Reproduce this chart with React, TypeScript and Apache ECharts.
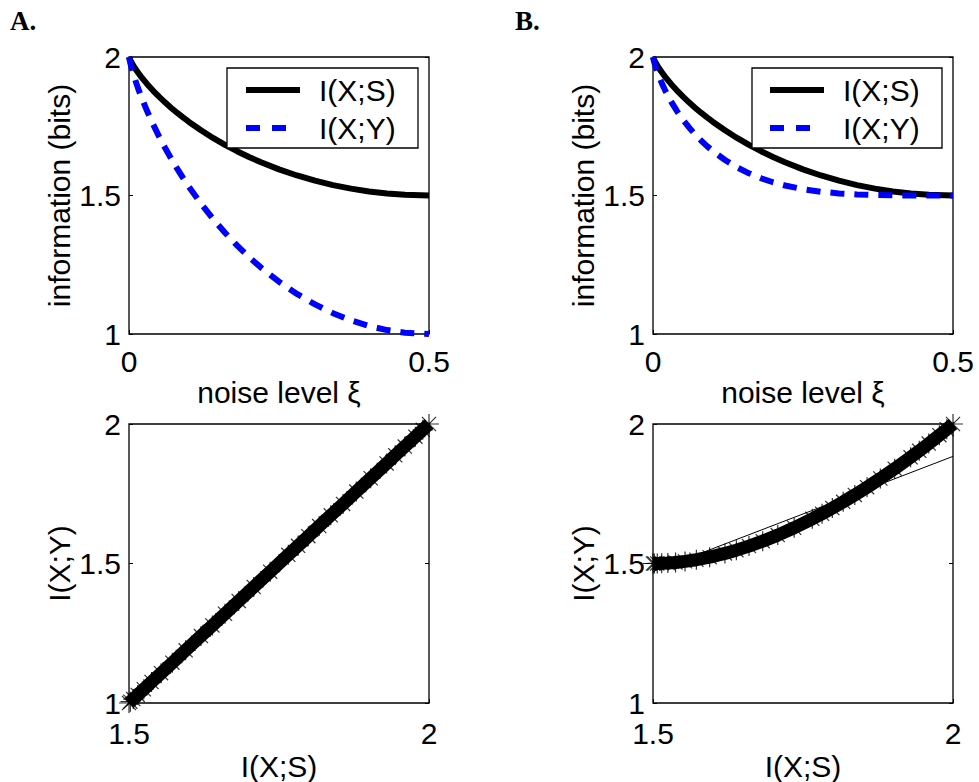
import React, { useEffect, useRef } from 'react';
import * as echarts from 'echarts';

// noise level ξ samples
const NOISE = [0, 0.002, 0.005, 0.01, 0.015, 0.02, 0.03, 0.04, 0.05, 0.06, 0.07, 0.08, 0.09, 0.1, 0.12, 0.14, 0.16, 0.18, 0.2, 0.22, 0.25, 0.28, 0.31, 0.34, 0.37, 0.4, 0.43, 0.46, 0.5];
// I(X;S) (same in A and B)
const I_XS = [2, 1.9896, 1.9773, 1.9596, 1.9438, 1.9293, 1.9028, 1.8789, 1.8568, 1.8363, 1.8170, 1.7989, 1.7818, 1.7655, 1.7353, 1.7079, 1.6828, 1.6600, 1.6390, 1.6199, 1.5944, 1.5723, 1.5534, 1.5376, 1.5247, 1.5145, 1.5071, 1.5023, 1.5];
// I(X;Y) panel A
const I_XY_A = [2, 1.9792, 1.9546, 1.9192, 1.8876, 1.8586, 1.8056, 1.7577, 1.7136, 1.6726, 1.6341, 1.5978, 1.5635, 1.5310, 1.4706, 1.4158, 1.3657, 1.3199, 1.2781, 1.2398, 1.1887, 1.1446, 1.1068, 1.0752, 1.0493, 1.0291, 1.0142, 1.0046, 1];
// I(X;Y) panel B
const I_XY_B = [2, 1.9812, 1.9598, 1.9298, 1.9039, 1.8807, 1.8399, 1.8046, 1.7735, 1.7459, 1.7210, 1.6986, 1.6783, 1.6600, 1.6281, 1.6018, 1.5801, 1.5623, 1.5478, 1.5361, 1.5228, 1.5136, 1.5076, 1.5038, 1.5017, 1.5006, 1.5001, 1.5000, 1.5];
// thin straight line in panel B (bottom)
const FIT_B_X = [1.5, 2];
const FIT_B_Y = [1.471, 1.884];

const NOISE_TICKS = [0, 0.5];
const INFO_TICKS = [1, 1.5, 2];
const IXS_TICKS = [1.5, 2];

const FONT = 'Liberation Sans';
const ASTERISK = 'path://M0,-10L0,10M-10,0L10,0M-7.07,-7.07L7.07,7.07M-7.07,7.07L7.07,-7.07';

function pairs(xs: number[], ys: number[]) {
  return xs.map((x, i) => [x, ys[i]]);
}

export default function App() {
  const ref = useRef<HTMLDivElement>(null);
  useEffect(() => {
    document.body.style.margin = '0';
    const chart = echarts.init(ref.current!, undefined, { renderer: 'svg' });
    const grids = [
      { left: 129, top: 57, width: 300, height: 277 },
      { left: 653, top: 57, width: 300, height: 277 },
      { left: 129, top: 424, width: 300, height: 279 },
      { left: 653, top: 424, width: 300, height: 279 },
    ].map((g) => ({ ...g, show: true, borderColor: '#000', borderWidth: 1.3, backgroundColor: 'transparent' }));

    const tick = { show: true, inside: true, length: 4, lineStyle: { color: '#000', width: 1 } };
    const lbl = { color: '#000', fontSize: 30, fontFamily: FONT, lineHeight: 22 };
    const nameStyle = { color: '#000', fontSize: 30, fontFamily: FONT };

    const xAxis: any[] = [0, 1, 2, 3].map((i) => {
      const ticks = i < 2 ? NOISE_TICKS : IXS_TICKS;
      return {
        type: 'value',
        gridIndex: i,
        min: ticks[0],
        max: ticks[ticks.length - 1],
        interval: ticks[1] - ticks[0],
        splitLine: { show: false },
        axisLine: { show: false },
        axisTick: tick,
        axisLabel: { ...lbl, margin: i < 2 ? 16 : 19 },
        name: i < 2 ? 'noise level ξ' : 'I(X;S)',
        nameLocation: 'middle',
        nameGap: i < 2 ? 43 : 48,
        nameTextStyle: nameStyle,
      };
    });
    const yAxis: any[] = [];
    [0, 1, 2, 3].forEach((i) => {
      const base = {
        type: 'value',
        gridIndex: i,
        min: INFO_TICKS[0],
        max: INFO_TICKS[INFO_TICKS.length - 1],
        interval: INFO_TICKS[1] - INFO_TICKS[0],
        splitLine: { show: false },
        axisLine: { show: false },
        axisTick: tick,
      };
      yAxis.push({
        ...base,
        position: 'left',
        axisLabel: { ...lbl, margin: 8 },
        name: i < 2 ? 'information (bits)' : 'I(X;Y)',
        nameLocation: 'middle',
        nameGap: 55,
        nameTextStyle: nameStyle,
      });
      yAxis.push({ ...base, position: 'right', axisLabel: { show: false } });
    });

    const band = { color: '#000', width: 13 };
    const star = { color: 'transparent', borderColor: '#000', borderWidth: 1.2 };
    const series: any[] = [
      {
        type: 'line', name: 'I(X;S)', xAxisIndex: 0, yAxisIndex: 0, data: pairs(NOISE, I_XS),
        symbol: 'none', clip: false, lineStyle: { color: '#000', width: 6 }, z: 3,
      },
      {
        type: 'line', name: 'I(X;Y)', xAxisIndex: 0, yAxisIndex: 0, data: pairs(NOISE, I_XY_A),
        symbol: 'none', clip: false, lineStyle: { color: '#0000ff', width: 6, type: [14, 10] }, z: 4,
      },
      {
        type: 'line', name: 'I(X;S)', xAxisIndex: 1, yAxisIndex: 2, data: pairs(NOISE, I_XS),
        symbol: 'none', clip: false, lineStyle: { color: '#000', width: 6 }, z: 3,
      },
      {
        type: 'line', name: 'I(X;Y)', xAxisIndex: 1, yAxisIndex: 2, data: pairs(NOISE, I_XY_B),
        symbol: 'none', clip: false, lineStyle: { color: '#0000ff', width: 6, type: [14, 10] }, z: 4,
      },
      {
        type: 'line', xAxisIndex: 2, yAxisIndex: 4, data: pairs(I_XS, I_XY_A),
        symbol: 'none', clip: false, lineStyle: band, z: 3,
      },
      {
        type: 'scatter', xAxisIndex: 2, yAxisIndex: 4, data: pairs(I_XS, I_XY_A),
        symbol: ASTERISK, symbolSize: 20, clip: false, itemStyle: star, z: 4,
      },
      {
        type: 'line', xAxisIndex: 3, yAxisIndex: 6, data: pairs(I_XS, I_XY_B),
        symbol: 'none', clip: false, lineStyle: band, z: 3,
      },
      {
        type: 'scatter', xAxisIndex: 3, yAxisIndex: 6, data: pairs(I_XS, I_XY_B),
        symbol: ASTERISK, symbolSize: 20, clip: false, itemStyle: star, z: 4,
      },
      {
        type: 'line', xAxisIndex: 3, yAxisIndex: 6, data: pairs(FIT_B_X, FIT_B_Y),
        symbol: 'none', clip: false, lineStyle: { color: '#000', width: 1 }, z: 5,
      },
    ];

    const legend = (bx: number, lx: number, tx: number, w: number) => [
      { type: 'rect', shape: { x: bx, y: 68, width: w, height: 80 }, style: { fill: '#fff', stroke: '#000', lineWidth: 1.3 }, z: 100 },
      { type: 'line', shape: { x1: lx, y1: 90, x2: lx + 54, y2: 90 }, style: { stroke: '#000', lineWidth: 6 }, z: 101 },
      { type: 'line', shape: { x1: lx, y1: 128, x2: lx + 44, y2: 128 }, style: { stroke: '#0000ff', lineWidth: 6, lineDash: [14, 12] }, z: 101 },
      { type: 'text', x: tx, y: 90, style: { text: 'I(X;S)', fontSize: 30, fontFamily: FONT, fill: '#000', verticalAlign: 'middle' }, z: 102 },
      { type: 'text', x: tx, y: 128, style: { text: 'I(X;Y)', fontSize: 30, fontFamily: FONT, fill: '#000', verticalAlign: 'middle' }, z: 102 },
    ];
    const letter = (t: string, x: number) => ({
      type: 'text', x, y: 21,
      style: { text: t, fontSize: 27, fontWeight: 'bold', fontFamily: 'Liberation Serif', fill: '#000', verticalAlign: 'middle' },
    });

    chart.setOption({
      animation: false,
      backgroundColor: '#fff',
      grid: grids,
      xAxis,
      yAxis,
      series,
      graphic: [
        ...legend(227, 246, 319, 191),
        ...legend(752, 770, 843, 190),
        letter('A.', 10),
        letter('B.', 515),
      ],
    });
    return () => chart.dispose();
  }, []);
  return <div ref={ref} style={{ position: 'absolute', left: 0, top: 0, width: 979, height: 782 }} />;
}
